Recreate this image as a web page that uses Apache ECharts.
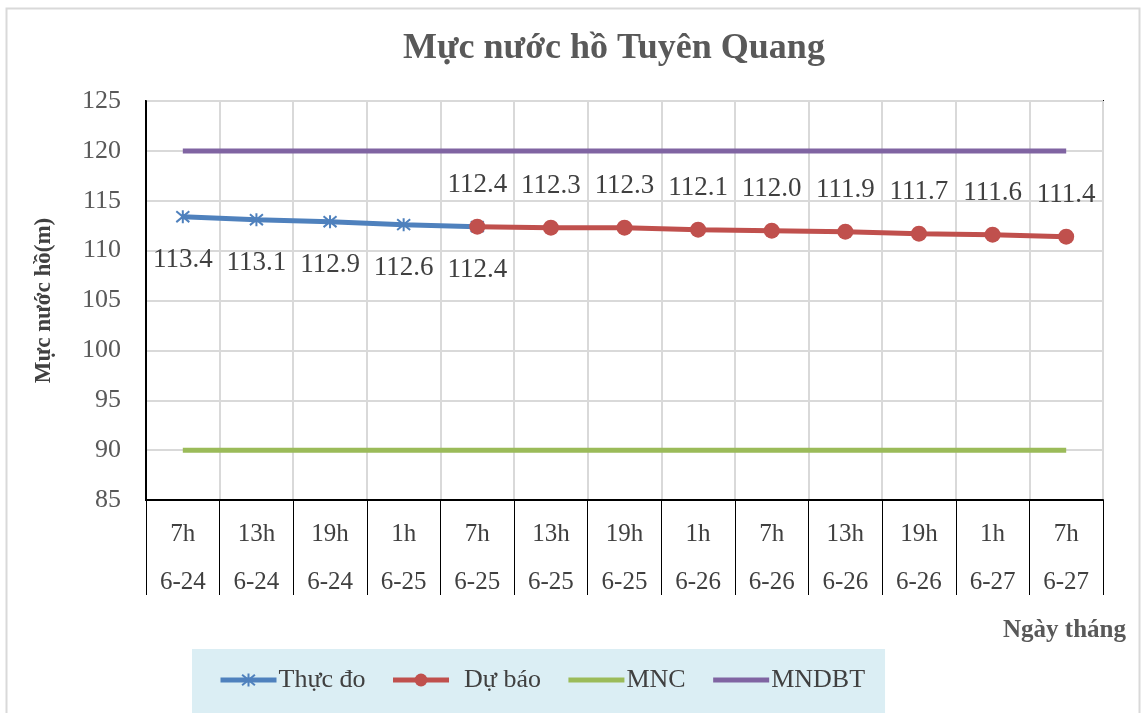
<!DOCTYPE html>
<html>
<head>
<meta charset="utf-8">
<script src="https://cdn.jsdelivr.net/npm/echarts@6/dist/echarts.min.js"></script>
<style>
  html, body { margin: 0; padding: 0; background: #fff; }
  #chart { width: 1142px; height: 713px; }
</style>
</head>
<body>
<div id="chart"></div>
<script>
const hours = ['7h', '13h', '19h', '1h', '7h', '13h', '19h', '1h', '7h', '13h', '19h', '1h', '7h'];
const days = ['6-24', '6-24', '6-24', '6-25', '6-25', '6-25', '6-25', '6-26', '6-26', '6-26', '6-26', '6-27', '6-27'];
const thucDo = [113.4, 113.1, 112.9, 112.6, 112.4, null, null, null, null, null, null, null, null];
const duBao = [null, null, null, null, 112.4, 112.3, 112.3, 112.1, 112.0, 111.9, 111.7, 111.6, 111.4];
const mnc = [90, 90, 90, 90, 90, 90, 90, 90, 90, 90, 90, 90, 90];
const mndbt = [120, 120, 120, 120, 120, 120, 120, 120, 120, 120, 120, 120, 120];

const categories = hours.map((h, i) => h + '\n' + days[i]);
const serif = 'Liberation Serif';

const chart = echarts.init(document.getElementById('chart'));

// dấu sao cho đường thực đo
const star = 'path://M0,0L10,10M10,0L0,10M5,-1L5,11';

const option = {
  backgroundColor: '#fff',
  animation: false,
  title: {
    text: 'Mực nước hồ Tuyên Quang',
    left: 398,
    top: 26,
    textStyle: { fontFamily: serif, fontSize: 36, fontWeight: 'bold', color: '#595959' }
  },
  graphic: [
    {
      type: 'rect',
      shape: { x: 6.5, y: 8.5, width: 1133, height: 720 },
      style: { fill: 'none', stroke: '#d9d9d9', lineWidth: 2 }
    },
    {
      type: 'text',
      right: 16,
      top: 618,
      style: { text: 'Ngày tháng', font: 'bold 25px "Liberation Serif"', fill: '#595959' }
    }
  ],
  legend: {
    left: 192,
    bottom: -2,
    padding: [18, 20, 22, 26],
    backgroundColor: '#dbeef4',
    itemWidth: 56,
    itemHeight: 16,
    itemGap: 25,
    lineStyle: { width: 5 },
    textStyle: { fontFamily: serif, fontSize: 26, color: '#404040', padding: [0, 0, 0, -3] },
    formatter: name => name === 'Dự báo' ? '  ' + name : name,
    data: [
      'Thực đo',
      'Dự báo',
      { name: 'MNC', itemStyle: { opacity: 0 } },
      { name: 'MNDBT', itemStyle: { opacity: 0 } }
    ]
  },
  grid: {
    left: 146,
    right: 39,
    top: 101,
    bottom: 213,
    show: true,
    borderColor: '#000',
    borderWidth: 2
  },
  xAxis: {
    type: 'category',
    data: categories,
    boundaryGap: true,
    axisLine: { lineStyle: { color: '#000', width: 2 } },
    axisTick: { show: true, interval: 0, length: 95, lineStyle: { color: '#000', width: 1 } },
    axisLabel: {
      interval: 0, margin: 10, fontFamily: serif, fontSize: 25, color: '#404040', lineHeight: 48
    },
    splitLine: { show: true, interval: 0, lineStyle: { color: '#d9d9d9', width: 2 } }
  },
  yAxis: {
    type: 'value',
    min: 85,
    max: 125,
    interval: 5,
    name: 'Mực nước hồ(m)',
    nameLocation: 'middle',
    nameGap: 90,
    nameTextStyle: { fontFamily: serif, fontSize: 23, fontWeight: 'bold', color: '#404040' },
    axisLine: { show: true, lineStyle: { color: '#000', width: 2 } },
    axisTick: { show: false },
    axisLabel: { margin: 25, fontFamily: serif, fontSize: 26, color: '#595959' },
    splitLine: { lineStyle: { color: '#d9d9d9', width: 2 } }
  },
  series: [
    {
      name: 'Thực đo',
      type: 'line',
      data: thucDo,
      symbol: star,
      symbolSize: 13,
      lineStyle: { color: '#4f81bd', width: 5 },
      itemStyle: { color: '#4f81bd', borderColor: '#4f81bd', borderWidth: 2 },
      label: {
        show: true, position: 'bottom', distance: 22,
        fontFamily: serif, fontSize: 27, color: '#404040',
        formatter: p => p.value.toFixed(1)
      },
      z: 3
    },
    {
      name: 'Dự báo',
      type: 'line',
      data: duBao,
      symbol: 'circle',
      symbolSize: 16,
      lineStyle: { color: '#c0504d', width: 5 },
      itemStyle: { color: '#c0504d' },
      label: {
        show: true, position: 'top', distance: 20,
        fontFamily: serif, fontSize: 27, color: '#404040',
        formatter: p => p.value.toFixed(1)
      },
      z: 4
    },
    {
      name: 'MNC',
      type: 'line',
      data: mnc,
      symbol: 'none',
      lineStyle: { color: '#9bbb59', width: 5 },
      itemStyle: { color: '#9bbb59' }
    },
    {
      name: 'MNDBT',
      type: 'line',
      data: mndbt,
      symbol: 'none',
      lineStyle: { color: '#8064a2', width: 5 },
      itemStyle: { color: '#8064a2' }
    }
  ]
};

chart.setOption(option);
</script>
</body>
</html>
